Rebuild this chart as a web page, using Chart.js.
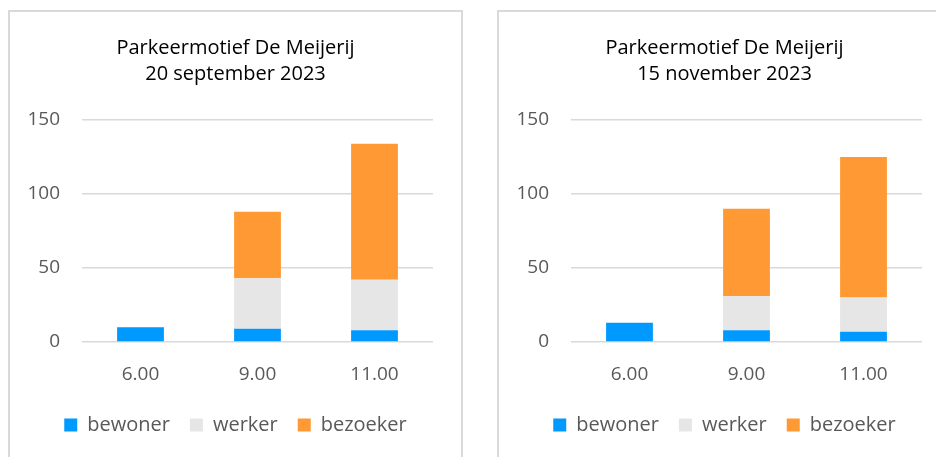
<!DOCTYPE html>
<html>
<head>
<meta charset="utf-8">
<script src="https://cdn.jsdelivr.net/npm/chart.js@4/dist/chart.umd.min.js"></script>
<style>
    html, body { margin: 0; padding: 0; background: #ffffff; overflow: hidden; }
    body { width: 936px; height: 457px; position: relative; }
    .panel {
        position: absolute;
        top: 10px;
        width: 451px;
        height: 460px;
        border: 2px solid #d9d9d9;
        background: #ffffff;
    }
    .panel canvas { display: block; }
</style>
</head>
<body>
<div class="panel" style="left: 8px;"><canvas id="chartSep" width="451" height="450"></canvas></div>
<div class="panel" style="left: 497px;"><canvas id="chartNov" width="451" height="450"></canvas></div>

<script>
// Categories (time of day)
const hours = ['6.00', '9.00', '11.00'];
const seriesNames = ['bewoner', 'werker', 'bezoeker'];
const seriesColors = ['#0099ff', '#e6e6e6', '#ff9933'];

// 20 september 2023
const sepBewoner = [10, 9, 8];
const sepWerker = [0, 34, 34];
const sepBezoeker = [0, 45, 92];

// 15 november 2023
const novBewoner = [13, 8, 7];
const novWerker = [0, 23, 23];
const novBezoeker = [0, 59, 95];

const yTicks = [0, 50, 100, 150];

const fontFamily = "'Open Sans', 'Noto Sans', sans-serif";
const textGrey = '#595959';

function buildChart(canvasId, dateLabel, values) {
    const ctx = document.getElementById(canvasId).getContext('2d');

    const datasets = values.map((data, i) => ({
        label: seriesNames[i],
        data: data,
        backgroundColor: seriesColors[i],
        borderWidth: 0,
        barPercentage: 0.4,
        categoryPercentage: 1.0
    }));

    return new Chart(ctx, {
        type: 'bar',
        data: { labels: hours, datasets: datasets },
        options: {
            responsive: false,
            animation: false,
            devicePixelRatio: 1,
            layout: { padding: { left: 0, right: 0, top: 0, bottom: 17 } },
            plugins: {
                title: {
                    display: true,
                    text: ['Parkeermotief De Meijerij', dateLabel],
                    color: '#000000',
                    font: { family: fontFamily, size: 20, weight: 'normal', lineHeight: 26 / 20 },
                    padding: { top: 23, bottom: 33 }
                },
                legend: {
                    position: 'bottom',
                    labels: {
                        boxWidth: 13,
                        boxHeight: 13,
                        padding: 20,
                        color: textGrey,
                        font: { family: fontFamily, size: 20 }
                    }
                },
                tooltip: { enabled: false }
            },
            scales: {
                x: {
                    stacked: true,
                    grid: { display: false },
                    border: { display: false },
                    ticks: {
                        color: textGrey,
                        padding: 13,
                        font: { family: fontFamily, size: 19 }
                    },
                    afterFit: (scale) => { scale.height = 53; }
                },
                y: {
                    stacked: true,
                    min: yTicks[0],
                    max: yTicks[yTicks.length - 1],
                    grid: { color: '#d9d9d9', lineWidth: 1.5, drawTicks: false },
                    border: { display: false },
                    ticks: {
                        stepSize: yTicks[1] - yTicks[0],
                        color: textGrey,
                        padding: 22,
                        font: { family: fontFamily, size: 19 }
                    },
                    afterFit: (scale) => { scale.width = 72; }
                },
                // empty right-hand margin so title and legend stay centred on the whole panel
                yRight: {
                    position: 'right',
                    grid: { display: false },
                    border: { display: false },
                    ticks: { display: false },
                    afterFit: (scale) => { scale.width = 28; }
                }
            }
        }
    });
}

document.addEventListener('DOMContentLoaded', function() {
    buildChart('chartSep', '20 september 2023', [sepBewoner, sepWerker, sepBezoeker]);
    buildChart('chartNov', '15 november 2023', [novBewoner, novWerker, novBezoeker]);
});
</script>
</body>
</html>
